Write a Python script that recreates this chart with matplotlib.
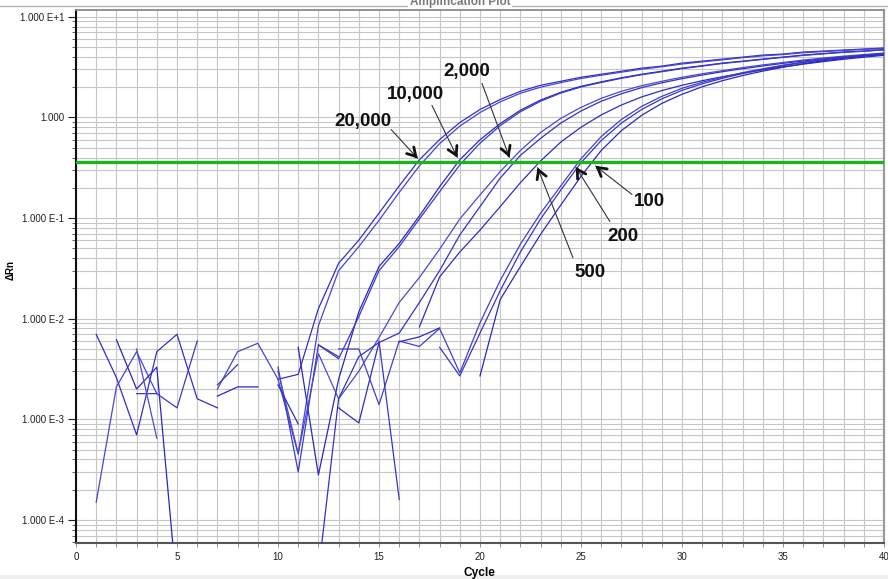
import numpy as np
import matplotlib
matplotlib.use("Agg")
import matplotlib.pyplot as plt
from matplotlib.ticker import FixedLocator, LogLocator, MultipleLocator, NullFormatter
from matplotlib.lines import Line2D
from matplotlib.patches import Rectangle

plt.rcParams["font.family"] = ["Liberation Sans", "DejaVu Sans"]

nan = np.nan
cycles = list(range(1, 41))

# Delta Rn per cycle for each well (nan = negative / not drawn on log scale)
rn_20000_a = [0.0070, 0.0026, 0.00070, 0.0047, 0.0070, 0.0016, 0.0013, nan, nan, 0.0025,
              0.0028, 0.0126, 0.0355, 0.0603, 0.112, 0.209, 0.380, 0.603, 0.891, 1.20,
              1.51, 1.82, 2.09, 2.29, 2.51, 2.69, 2.88, 3.09, 3.24, 3.47,
              3.63, 3.80, 3.98, 4.17, 4.27, 4.47, 4.57, 4.68, 4.79, 4.90]
rn_20000_b = [0.00015, 0.0021, 0.0047, 0.0018, nan, nan, 0.0020, 0.0047, 0.0057, 0.0025,
              0.00045, 0.0085, 0.030, 0.052, 0.095, 0.18, 0.33, 0.55, 0.82, 1.12,
              1.43, 1.74, 2.00, 2.22, 2.44, 2.63, 2.82, 3.02, 3.19, 3.40,
              3.57, 3.74, 3.93, 4.10, 4.22, 4.40, 4.52, 4.63, 4.74, 4.86]
rn_10000_a = [nan, 0.0062, 0.0020, 0.0033, 0.00002, nan, 0.0017, 0.0021, 0.0021, nan,
              0.0052, 0.00028, 0.0025, 0.0117, 0.033, 0.056, 0.105, 0.205, 0.38, 0.60,
              0.87, 1.18, 1.49, 1.78, 2.04, 2.26, 2.48, 2.69, 2.88, 3.09,
              3.27, 3.47, 3.63, 3.80, 3.98, 4.17, 4.32, 4.47, 4.57, 4.73]
rn_10000_b = [nan, nan, 0.0018, 0.0018, 0.0013, 0.0060, nan, nan, nan, 0.0033,
              0.00030, 0.0055, 0.0040, 0.0105, 0.030, 0.052, 0.098, 0.183, 0.338, 0.555,
              0.83, 1.14, 1.45, 1.75, 2.01, 2.23, 2.45, 2.66, 2.85, 3.06,
              3.24, 3.44, 3.60, 3.78, 3.96, 4.14, 4.29, 4.44, 4.55, 4.70]
rn_2000_a = [nan, nan, 0.0050, 0.00065, nan, nan, nan, nan, nan, 0.0030,
             0.00046, 0.0045, 0.0016, 0.0030, 0.0065, 0.0145, 0.0257, 0.049, 0.098, 0.17,
             0.29, 0.47, 0.71, 0.98, 1.26, 1.55, 1.82, 2.07, 2.29, 2.51,
             2.72, 2.92, 3.13, 3.33, 3.52, 3.72, 3.90, 4.07, 4.22, 4.37]
rn_2000_b = [nan, nan, nan, nan, nan, nan, nan, nan, nan, nan,
             nan, 0.00003, 0.0016, 0.0042, 0.0058, 0.0072, 0.0145, 0.030, 0.068, 0.13,
             0.25, 0.42, 0.62, 0.88, 1.16, 1.45, 1.72, 1.98, 2.21, 2.43,
             2.64, 2.85, 3.05, 3.25, 3.45, 3.64, 3.83, 4.00, 4.16, 4.32]
rn_500 = [nan, nan, nan, nan, nan, nan, nan, nan, nan, 0.0022,
          0.0009, nan, 0.0013, 0.00092, 0.0058, nan, 0.0083, 0.026, 0.046, 0.076,
          0.13, 0.225, 0.37, 0.57, 0.80, 1.06, 1.33, 1.60, 1.85, 2.09,
          2.32, 2.54, 2.76, 2.97, 3.18, 3.39, 3.59, 3.79, 3.97, 4.15]
rn_200_a = [nan, nan, nan, nan, nan, nan, nan, nan, nan, nan,
            nan, nan, 0.0050, 0.0050, 0.0014, 0.0060, 0.0053, 0.0080, 0.0029, 0.0091,
            0.024, 0.055, 0.112, 0.209, 0.389, 0.646, 0.955, 1.29, 1.62, 1.95,
            2.24, 2.51, 2.79, 3.05, 3.31, 3.55, 3.76, 3.95, 4.12, 4.33]
rn_200_b = [nan, nan, nan, nan, nan, nan, 0.0022, 0.0035, nan, nan,
            nan, 0.0055, 0.0042, nan, 0.0060, 0.00016, nan, 0.0052, 0.0027, 0.0072,
            0.019, 0.046, 0.098, 0.19, 0.355, 0.59, 0.88, 1.20, 1.53, 1.86,
            2.16, 2.45, 2.73, 3.00, 3.27, 3.52, 3.74, 3.94, 4.12, 4.29]
rn_100 = [nan, nan, nan, nan, nan, nan, nan, nan, nan, nan,
          nan, nan, nan, nan, nan, 0.0059, 0.0066, 0.0081, nan, 0.0027,
          0.0155, 0.033, 0.069, 0.135, 0.26, 0.47, 0.74, 1.05, 1.38, 1.70,
          2.02, 2.32, 2.61, 2.89, 3.16, 3.42, 3.66, 3.87, 4.06, 4.22]

wells = [rn_20000_a, rn_20000_b, rn_10000_a, rn_10000_b, rn_2000_a,
         rn_2000_b, rn_500, rn_200_a, rn_200_b, rn_100]
well_colors = ["#3030c8", "#4646d2", "#2828c0", "#3a3acc", "#4a4ad0",
               "#3232c6", "#2d2dc4", "#4040cc", "#3636c8", "#2a2ac2"]

threshold = 0.357

# copy-number labels, where each points on the threshold (cycle), and text / arrow tail positions
copy_labels = ["20,000", "10,000", "2,000", "500", "200", "100"]
label_ct = [17.1, 19.0, 21.55, 22.75, 24.6, 25.5]
label_text_pos = [(14.2, 0.91), (16.8, 1.69), (19.36, 2.87),
                  (25.45, 0.0288), (27.08, 0.0656), (28.4, 0.146)]
label_tail_pos = [(15.6, 0.76), (17.62, 1.32), (20.1, 2.18),
                  (24.6, 0.0405), (26.43, 0.0925), (27.52, 0.172)]

ytick_vals = [1e-4, 1e-3, 1e-2, 1e-1, 1.0, 10.0]
ytick_text = ["1.000 E-4", "1.000 E-3", "1.000 E-2", "1.000 E-1", "1.000", "1.000 E+1"]
xtick_vals = [0, 5, 10, 15, 20, 25, 30, 35, 40]

W, H = 888, 579
fig = plt.figure(figsize=(W / 100, H / 100), dpi=100)
fig.patch.set_facecolor("white")

# window frame pieces around the plot
fig.add_artist(Rectangle((0, 0), 1, 4 / H, transform=fig.transFigure,
                         facecolor="#efefef", edgecolor="none", zorder=-2))
fig.add_artist(Line2D([0, 1], [1 - 6 / H] * 2, color="#b4b4b4", lw=1.0, zorder=-2))

ax = fig.add_axes([76 / W, 36 / H, 808 / W, 533 / H])

for vals, col in zip(wells, well_colors):
    ax.plot(cycles, vals, color=col, lw=0.9, zorder=3)

ax.axhline(threshold, color="#1db31d", lw=2.4, zorder=4)

ax.set_yscale("log")
ax.set_xlim(0, 40)
ax.set_ylim(5.9e-5, 11.7)

ax.yaxis.set_major_locator(FixedLocator(ytick_vals))
ax.set_yticklabels(ytick_text)
ax.yaxis.set_minor_locator(LogLocator(base=10, subs=np.arange(2, 10)))
ax.yaxis.set_minor_formatter(NullFormatter())
ax.set_xticks(xtick_vals)
ax.set_xticklabels([str(v) for v in xtick_vals])
ax.xaxis.set_minor_locator(MultipleLocator(1))

ax.grid(which="both", color="#c6c6c6", lw=0.8, zorder=0)
ax.set_axisbelow(True)

ax.tick_params(axis="y", which="major", length=6, width=0.8, color="#202020",
               labelsize=7, pad=2.5, labelcolor="#202020")
ax.tick_params(axis="y", which="minor", length=3, width=0.7, color="#606060")
ax.tick_params(axis="x", which="both", length=3, width=0.7, color="#909090",
               labelsize=7, pad=3.5, labelcolor="#202020")

ax.spines["left"].set_color("#101010")
ax.spines["left"].set_linewidth(1.5)
ax.spines["bottom"].set_color("#555555")
ax.spines["bottom"].set_linewidth(1.5)
ax.spines["top"].set_color("#8a8a8a")
ax.spines["top"].set_linewidth(1.3)
ax.spines["right"].set_color("#9a9a9a")
ax.spines["right"].set_linewidth(1.6)

ax.set_ylabel("\u0394Rn", fontsize=7, fontweight="bold", va="center")
ax.yaxis.set_label_coords((11 - 76) / 808, 0.512)
ax.set_xlabel("Cycle", fontsize=8.6, fontweight="bold", va="center")
ax.xaxis.set_label_coords(0.4988, -0.0563)

# copy-number labels with arrows to the threshold crossings
for lab, ct, tpos, tail in zip(copy_labels, label_ct, label_text_pos, label_tail_pos):
    ax.text(tpos[0], tpos[1], lab, ha="center", va="center", fontsize=13.5,
            fontweight="bold", color="#111111", zorder=6)
    p_tip = ax.transData.transform((ct, threshold))
    p_tail = ax.transData.transform(tail)
    d = p_tip - p_tail
    u = d / np.hypot(d[0], d[1])
    tip = p_tip - u * 5.5
    ax.annotate("", xy=tuple(tip), xytext=tuple(p_tail),
                xycoords="figure pixels", textcoords="figure pixels",
                arrowprops=dict(arrowstyle="-", lw=0.8, color="#333333",
                                shrinkA=0, shrinkB=0), zorder=6)
    ax.annotate("", xy=tuple(tip), xytext=tuple(tip - u * 3),
                xycoords="figure pixels", textcoords="figure pixels",
                arrowprops=dict(arrowstyle="->,head_length=0.6,head_width=0.35",
                                lw=2.0, color="#111111", shrinkA=0, shrinkB=0,
                                mutation_scale=10), zorder=7)

fig.text(460 / W, 1 - 5.0 / H, "Amplification Plot", ha="center", va="baseline",
         fontsize=8.5, fontweight="bold", color="#7a7a7a",
         bbox=dict(facecolor="white", edgecolor="none", pad=1))

fig.savefig("out.png", dpi=100)
